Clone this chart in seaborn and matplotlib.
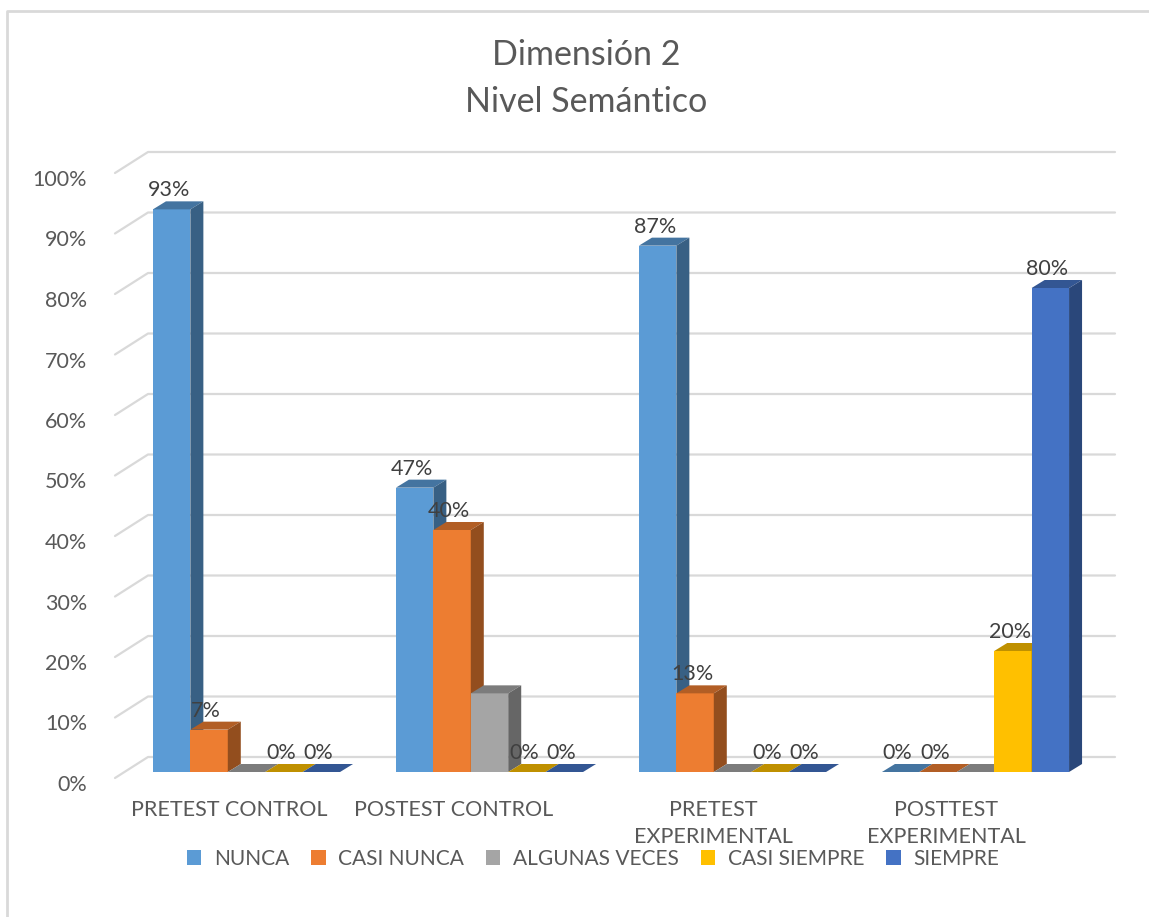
import numpy as np
import pandas as pd
import matplotlib
matplotlib.use("Agg")
import matplotlib.pyplot as plt
import matplotlib.transforms as mtransforms
from matplotlib.patches import Polygon
from matplotlib.lines import Line2D
from matplotlib.colors import to_rgb
import seaborn as sns

# datos
grupos = ['PRETEST CONTROL', 'POSTEST CONTROL', 'PRETEST\nEXPERIMENTAL', 'POSTTEST\nEXPERIMENTAL']
niveles = ['NUNCA', 'CASI NUNCA', 'ALGUNAS VECES', 'CASI SIEMPRE', 'SIEMPRE']
nunca = [0.93, 0.47, 0.87, 0.00]
casi_nunca = [0.07, 0.40, 0.13, 0.00]
algunas_veces = [0.00, 0.13, 0.00, 0.00]
casi_siempre = [0.00, 0.00, 0.00, 0.20]
siempre = [0.00, 0.00, 0.00, 0.80]
con_etiqueta = [True, True, False, True, True]
ticks_y = [0.0, 0.1, 0.2, 0.3, 0.4, 0.5, 0.6, 0.7, 0.8, 0.9, 1.0]

colores = ['#5B9BD5', '#ED7D31', '#A5A5A5', '#FFC000', '#4472C4']
GRIS_TXT = '#595959'
GRIS_LINEA = '#D9D9D9'
FS = 15.5

series = dict(zip(niveles, [nunca, casi_nunca, algunas_veces, casi_siempre, siempre]))
df = pd.DataFrame([(g, n, series[n][i]) for n in niveles for i, g in enumerate(grupos)],
                  columns=['grupo', 'nivel', 'valor'])


def sombra(color, f):
    r, g, b = to_rgb(color)
    return (r * f, g * f, b * f)


# layout en pixeles
W, H = 1149, 917
AX_L, AX_R = 115, 1115
Y0, Y1 = 772, 167
C0, PASO = 246.5, 243
DX, DY = 13, 8

sns.set_theme(style='white')
plt.rcParams['font.family'] = ['Lato', 'DejaVu Sans']

fig = plt.figure(figsize=(W / 100, H / 100), dpi=100)
ax = fig.add_axes([AX_L / W, (H - Y0) / H, (AX_R - AX_L) / W, (Y0 - Y1) / H])

sns.barplot(data=df, x='grupo', y='valor', hue='nivel', order=grupos, hue_order=niveles,
            palette=colores, saturation=1, width=0.77, errorbar=None, linewidth=0, ax=ax)

ax.set_xlim((AX_L - C0) / PASO, (AX_R - C0) / PASO)
ax.set_ylim(0, 1)
kx = 1 / PASO
ky = 1 / (Y0 - Y1)

# caras 3D de las barras
for k, cont in enumerate(ax.containers):
    z = 3 + k * 0.1
    for bar in cont:
        bar.set_zorder(z)
        bar.set_clip_on(False)
        x0, w, h = bar.get_x(), bar.get_width(), bar.get_height()
        x1 = x0 + w
        dx, dy = DX * kx, DY * ky
        top = Polygon([(x0, h), (x1, h), (x1 + dx, h + dy), (x0 + dx, h + dy)],
                      closed=True, fc=sombra(colores[k], 0.75), ec='none', zorder=z, clip_on=False)
        side = Polygon([(x1, 0), (x1 + dx, dy), (x1 + dx, h + dy), (x1, h)],
                       closed=True, fc=sombra(colores[k], 0.62), ec='none', zorder=z, clip_on=False)
        ax.add_patch(top)
        ax.add_patch(side)
        if con_etiqueta[k]:
            ax.annotate(f'{h * 100:.0f}%', xy=(x0 + w / 2, h), xytext=(-3, 19),
                        textcoords='offset pixels', ha='center', va='center',
                        fontsize=FS, color='#404040', zorder=10)

# rejilla con perspectiva
xl, xr = ax.get_xlim()
for v in ticks_y:
    ax.plot([xl, xl + 33 * kx, xr], [v - 6 * ky, v + 15 * ky, v + 15 * ky],
            color=GRIS_LINEA, lw=1.6, zorder=1, clip_on=False)

for s in ax.spines.values():
    s.set_visible(False)
ax.set_xlabel('')
ax.set_ylabel('')

ax.set_yticks(ticks_y)
ax.set_yticklabels([f'{v * 100:.0f}%' for v in ticks_y])
ax.tick_params(axis='y', length=0, pad=20, labelsize=FS, labelcolor=GRIS_TXT)
off_y = mtransforms.ScaledTranslation(0, -0.11, fig.dpi_scale_trans)
for t in ax.yaxis.get_major_ticks():
    t.label1.set_transform(t.label1.get_transform() + off_y)

ax.set_xticks(range(len(grupos)))
ax.set_xticklabels(grupos, linespacing=1.45)
ax.tick_params(axis='x', length=0, pad=20, labelsize=FS, labelcolor=GRIS_TXT)
desplaz_x = [-17, -36, -19, -29]
for t, d in zip(ax.xaxis.get_major_ticks(), desplaz_x):
    t.label1.set_transform(t.label1.get_transform() +
                           mtransforms.ScaledTranslation(d / 100, 0, fig.dpi_scale_trans))

sns.move_legend(ax, 'center', bbox_to_anchor=(593 / W, 1 - 859 / H), bbox_transform=fig.transFigure,
                ncol=5, frameon=False, title=None, fontsize=15, handlelength=0.7,
                handleheight=0.7, handletextpad=0.6, columnspacing=1.05, labelcolor=GRIS_TXT)

fig.text(586 / W, 1 - 55 / H, 'Dimensión 2', ha='center', va='center', fontsize=24.5, color=GRIS_TXT)
fig.text(586 / W, 1 - 102 / H, 'Nivel Semántico', ha='center', va='center', fontsize=24.5, color=GRIS_TXT)

fig.add_artist(Line2D([7 / W, 7 / W, 1], [0, 1 - 11 / H, 1 - 11 / H], transform=fig.transFigure,
                      color=GRIS_LINEA, lw=2))

fig.savefig('out.png', dpi=100)
